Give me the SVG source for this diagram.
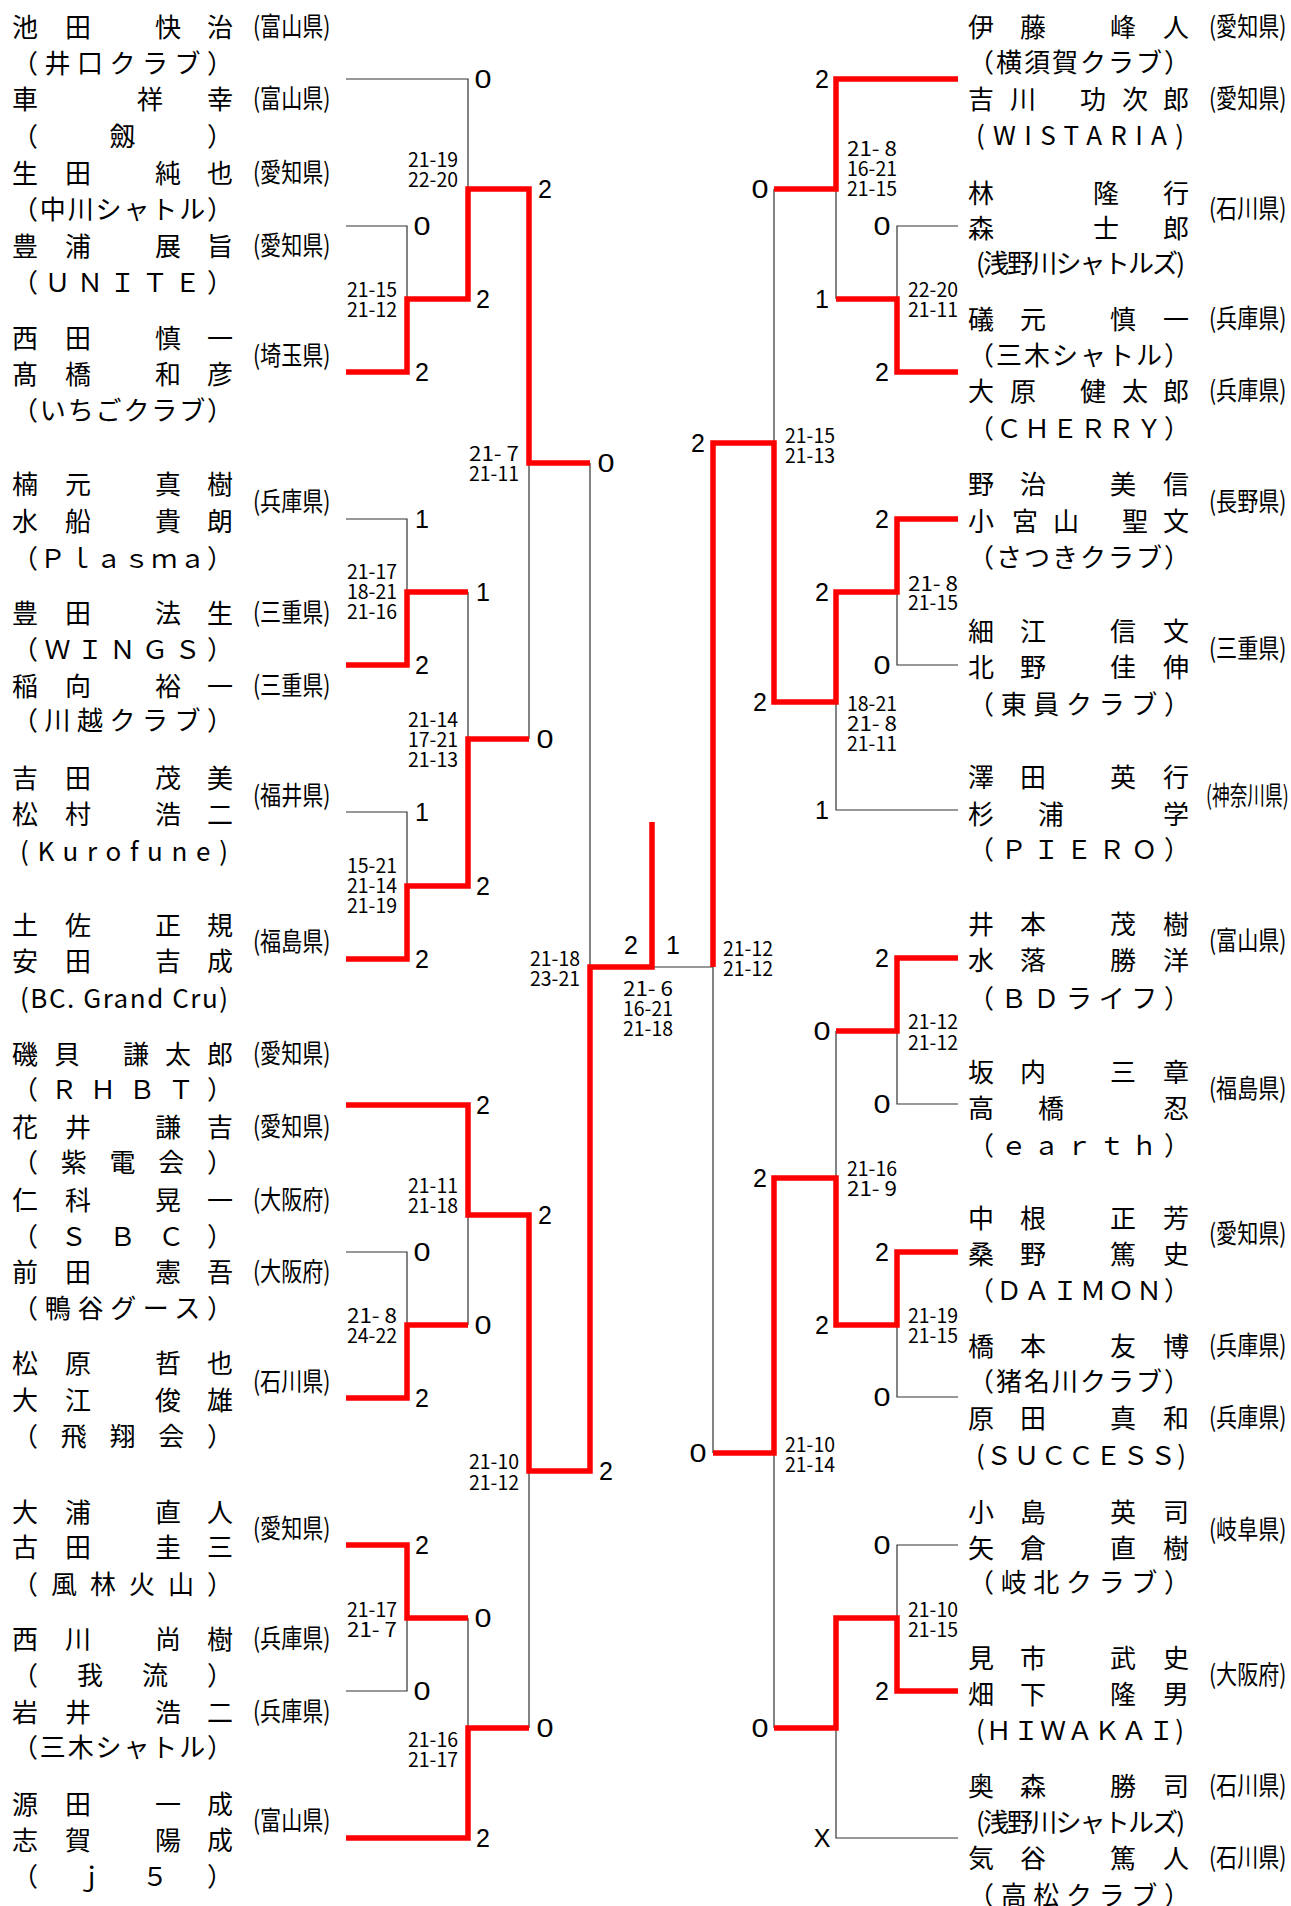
<svg xmlns="http://www.w3.org/2000/svg" width="1291" height="1906" viewBox="0 0 1291 1906">
<style>
text{font-family:"Noto Sans CJK JP","Noto Sans CJK SC",sans-serif;fill:#000}
.nm,.tm,.pf{font-size:26px;dominant-baseline:central}
.sc{font-size:20px;dominant-baseline:central}
.n{font-family:"Liberation Sans",Arial,sans-serif;font-size:25px;text-anchor:middle}
.thin{stroke:#333;stroke-width:1.2;fill:none}
.red{stroke:#ff0000;stroke-width:5.5;fill:none;stroke-linejoin:miter}
</style>
<rect width="1291" height="1906" fill="#fff"/>
<g id="connectors">
<path class="thin" d="M346 79H468V189M346 226H407V299M346 519H407V592M468 592V739M346 812H407V886M529 463V739M590 463V967M346 1252H407V1325M468 1215V1325M346 1691H407V1618M468 1618V1728M529 1471V1728M652 967H713M774 189V443M958 226H897V299M836 189V299M958 665H897V592M958 810H836V702M958 1104H897V1031M836 1031V1178M958 1397H897V1325M713 967V1453M774 1453V1728M958 1545H897V1618M958 1838H836V1728"/>
<path class="red" d="M346 372H407V299H468V189H529V463H590"/>
<path class="red" d="M346 665H407V592H468"/>
<path class="red" d="M346 959H407V886H468V739H529"/>
<path class="red" d="M346 1105H468V1215H529V1471H590V967H652V822"/>
<path class="red" d="M346 1398H407V1325H468"/>
<path class="red" d="M346 1545H407V1618H468"/>
<path class="red" d="M346 1838H468V1728H529"/>
<path class="red" d="M958 79H836V189H774"/>
<path class="red" d="M958 372H897V299H836"/>
<path class="red" d="M958 519H897V592H836V702H774V443H713V967"/>
<path class="red" d="M958 958H897V1031H836"/>
<path class="red" d="M958 1252H897V1325H836V1178H774V1453H713"/>
<path class="red" d="M958 1691H897V1618H836V1728H774"/>
</g>
<g id="L1">
<text class="nm" x="12 65 110 155 207" y="25">池田　快治</text><text class="pf" transform="matrix(0.81 0 0 1 253 25)">(富山県)</text>
<text class="tm" x="12" y="61" textLength="221">（井口クラブ）</text>
<text class="nm" x="12 74 137 207" y="97">車　祥幸</text><text class="pf" transform="matrix(0.81 0 0 1 253 97)">(富山県)</text>
<text class="tm" x="12" y="134" textLength="221">（　　劔　　）</text>
</g>
<g id="L2">
<text class="nm" x="12 65 110 155 207" y="171">生田　純也</text><text class="pf" transform="matrix(0.81 0 0 1 253 171)">(愛知県)</text>
<text class="tm" x="12" y="207" textLength="221">（中川シャトル）</text>
<text class="nm" x="12 65 110 155 207" y="244">豊浦　展旨</text><text class="pf" transform="matrix(0.81 0 0 1 253 244)">(愛知県)</text>
<text class="tm" x="12" y="280" textLength="221">（ＵＮＩＴＥ）</text>
</g>
<g id="L3">
<text class="nm" x="12 65 110 155 207" y="336">西田　慎一</text>
<text class="nm" x="12 65 110 155 207" y="372">髙橋　和彦</text><text class="pf" transform="matrix(0.81 0 0 1 253 354)">(埼玉県)</text>
<text class="tm" x="12" y="408" textLength="221">（いちごクラブ）</text>
</g>
<g id="L4">
<text class="nm" x="12 65 110 155 207" y="482">楠元　真樹</text>
<text class="nm" x="12 65 110 155 207" y="519">水船　貴朗</text><text class="pf" transform="matrix(0.81 0 0 1 253 500)">(兵庫県)</text>
<text class="tm" x="12" y="556" textLength="221">（Ｐｌａｓｍａ）</text>
</g>
<g id="L5">
<text class="nm" x="12 65 110 155 207" y="611">豊田　法生</text><text class="pf" transform="matrix(0.81 0 0 1 253 611)">(三重県)</text>
<text class="tm" x="12" y="647" textLength="221">（ＷＩＮＧＳ）</text>
<text class="nm" x="12 65 110 155 207" y="684">稲向　裕一</text><text class="pf" transform="matrix(0.81 0 0 1 253 684)">(三重県)</text>
<text class="tm" x="12" y="718" textLength="221">（川越クラブ）</text>
</g>
<g id="L6">
<text class="nm" x="12 65 110 155 207" y="776">吉田　茂美</text>
<text class="nm" x="12 65 110 155 207" y="812">松村　浩二</text><text class="pf" transform="matrix(0.81 0 0 1 253 794)">(福井県)</text>
<text class="tm" x="20" y="849" textLength="208">(Kurofune)</text>
</g>
<g id="L7">
<text class="nm" x="12 65 110 155 207" y="923">土佐　正規</text>
<text class="nm" x="12 65 110 155 207" y="959">安田　吉成</text><text class="pf" transform="matrix(0.81 0 0 1 253 940)">(福島県)</text>
<text class="tm" x="20" y="996" textLength="208">(BC. Grand Cru)</text>
</g>
<g id="L8">
<text class="nm" x="12 54 88 123 165 207" y="1052">磯貝　謙太郎</text><text class="pf" transform="matrix(0.81 0 0 1 253 1052)">(愛知県)</text>
<text class="tm" x="12" y="1087" textLength="221">（ＲＨＢＴ）</text>
<text class="nm" x="12 65 110 155 207" y="1125">花井　謙吉</text><text class="pf" transform="matrix(0.81 0 0 1 253 1125)">(愛知県)</text>
<text class="tm" x="12" y="1160" textLength="221">（紫電会）</text>
</g>
<g id="L9">
<text class="nm" x="12 65 110 155 207" y="1198">仁科　晃一</text><text class="pf" transform="matrix(0.81 0 0 1 253 1198)">(大阪府)</text>
<text class="tm" x="12" y="1234" textLength="221">（ＳＢＣ）</text>
<text class="nm" x="12 65 110 155 207" y="1270">前田　憲吾</text><text class="pf" transform="matrix(0.81 0 0 1 253 1270)">(大阪府)</text>
<text class="tm" x="12" y="1306" textLength="221">（鴨谷グース）</text>
</g>
<g id="L10">
<text class="nm" x="12 65 110 155 207" y="1361">松原　哲也</text>
<text class="nm" x="12 65 110 155 207" y="1398">大江　俊雄</text><text class="pf" transform="matrix(0.81 0 0 1 253 1380)">(石川県)</text>
<text class="tm" x="12" y="1434" textLength="221">（飛翔会）</text>
</g>
<g id="L11">
<text class="nm" x="12 65 110 155 207" y="1510">大浦　直人</text>
<text class="nm" x="12 65 110 155 207" y="1545">古田　圭三</text><text class="pf" transform="matrix(0.81 0 0 1 253 1527)">(愛知県)</text>
<text class="tm" x="12" y="1582" textLength="221">（風林火山）</text>
</g>
<g id="L12">
<text class="nm" x="12 65 110 155 207" y="1637">西川　尚樹</text><text class="pf" transform="matrix(0.81 0 0 1 253 1637)">(兵庫県)</text>
<text class="tm" x="12" y="1673" textLength="221">（　我　流　）</text>
<text class="nm" x="12 65 110 155 207" y="1710">岩井　浩二</text><text class="pf" transform="matrix(0.81 0 0 1 253 1710)">(兵庫県)</text>
<text class="tm" x="12" y="1745" textLength="221">（三木シャトル）</text>
</g>
<g id="L13">
<text class="nm" x="12 65 110 155 207" y="1802">源田　一成</text>
<text class="nm" x="12 65 110 155 207" y="1838">志賀　陽成</text><text class="pf" transform="matrix(0.81 0 0 1 253 1819)">(富山県)</text>
<text class="tm" x="12" y="1874" textLength="221">（　ｊ　５　）</text>
</g>
<g id="R1">
<text class="nm" x="968 1020 1065 1110 1163" y="25">伊藤　峰人</text><text class="pf" transform="matrix(0.81 0 0 1 1209 25)">(愛知県)</text>
<text class="tm" x="968" y="60" textLength="222">（横須賀クラブ）</text>
<text class="nm" x="968 1010 1045 1080 1122 1163" y="97">吉川　功次郎</text><text class="pf" transform="matrix(0.81 0 0 1 1209 97)">(愛知県)</text>
<text class="tm" x="976" y="133" textLength="208">(WISTARIA)</text>
</g>
<g id="R2">
<text class="nm" x="968 1030 1093 1163" y="191">林　隆行</text>
<text class="nm" x="968 1030 1093 1163" y="226">森　士郎</text><text class="pf" transform="matrix(0.81 0 0 1 1209 207)">(石川県)</text>
<text class="tm" x="976" y="261" textLength="209">(浅野川シャトルズ)</text>
</g>
<g id="R3">
<text class="nm" x="968 1020 1065 1110 1163" y="317">礒元　慎一</text><text class="pf" transform="matrix(0.81 0 0 1 1209 317)">(兵庫県)</text>
<text class="tm" x="968" y="353" textLength="222">（三木シャトル）</text>
<text class="nm" x="968 1010 1045 1080 1122 1163" y="389">大原　健太郎</text><text class="pf" transform="matrix(0.81 0 0 1 1209 389)">(兵庫県)</text>
<text class="tm" x="968" y="426" textLength="222">（ＣＨＥＲＲＹ）</text>
</g>
<g id="R4">
<text class="nm" x="968 1020 1065 1110 1163" y="482">野治　美信</text>
<text class="nm" x="968 1012 1053 1088 1122 1163" y="519">小宮山　聖文</text><text class="pf" transform="matrix(0.81 0 0 1 1209 500)">(長野県)</text>
<text class="tm" x="968" y="555" textLength="222">（さつきクラブ）</text>
</g>
<g id="R5">
<text class="nm" x="968 1020 1065 1110 1163" y="629">細江　信文</text>
<text class="nm" x="968 1020 1065 1110 1163" y="665">北野　佳伸</text><text class="pf" transform="matrix(0.81 0 0 1 1209 647)">(三重県)</text>
<text class="tm" x="968" y="702" textLength="222">（東員クラブ）</text>
</g>
<g id="R6">
<text class="nm" x="968 1020 1065 1110 1163" y="775">澤田　英行</text>
<text class="nm" x="968 1038 1100 1163" y="812">杉浦　学</text><text class="pf" transform="matrix(0.68 0 0 1 1206 793)">(神奈川県)</text>
<text class="tm" x="968" y="847" textLength="222">（ＰＩＥＲＯ）</text>
</g>
<g id="R7">
<text class="nm" x="968 1020 1065 1110 1163" y="922">井本　茂樹</text>
<text class="nm" x="968 1020 1065 1110 1163" y="958">水落　勝洋</text><text class="pf" transform="matrix(0.81 0 0 1 1209 939)">(富山県)</text>
<text class="tm" x="968" y="996" textLength="222">（ＢＤライフ）</text>
</g>
<g id="R8">
<text class="nm" x="968 1020 1065 1110 1163" y="1070">坂内　三章</text>
<text class="nm" x="968 1038 1100 1163" y="1106">高橋　忍</text><text class="pf" transform="matrix(0.81 0 0 1 1209 1087)">(福島県)</text>
<text class="tm" x="968" y="1143" textLength="222">（ｅａｒｔｈ）</text>
</g>
<g id="R9">
<text class="nm" x="968 1020 1065 1110 1163" y="1216">中根　正芳</text>
<text class="nm" x="968 1020 1065 1110 1163" y="1252">桑野　篤史</text><text class="pf" transform="matrix(0.81 0 0 1 1209 1232)">(愛知県)</text>
<text class="tm" x="968" y="1288" textLength="222">（ＤＡＩＭＯＮ）</text>
</g>
<g id="R10">
<text class="nm" x="968 1020 1065 1110 1163" y="1344">橋本　友博</text><text class="pf" transform="matrix(0.81 0 0 1 1209 1344)">(兵庫県)</text>
<text class="tm" x="968" y="1379" textLength="222">（猪名川クラブ）</text>
<text class="nm" x="968 1020 1065 1110 1163" y="1416">原田　真和</text><text class="pf" transform="matrix(0.81 0 0 1 1209 1416)">(兵庫県)</text>
<text class="tm" x="976" y="1453" textLength="210">(ＳＵＣＣＥＳＳ)</text>
</g>
<g id="R11">
<text class="nm" x="968 1020 1065 1110 1163" y="1510">小島　英司</text>
<text class="nm" x="968 1020 1065 1110 1163" y="1546">矢倉　直樹</text><text class="pf" transform="matrix(0.81 0 0 1 1209 1528)">(岐阜県)</text>
<text class="tm" x="968" y="1580" textLength="222">（岐北クラブ）</text>
</g>
<g id="R12">
<text class="nm" x="968 1020 1065 1110 1163" y="1656">見市　武史</text>
<text class="nm" x="968 1020 1065 1110 1163" y="1692">畑下　隆男</text><text class="pf" transform="matrix(0.81 0 0 1 1209 1673)">(大阪府)</text>
<text class="tm" x="976" y="1728" textLength="208">(ＨＩＷＡＫＡＩ)</text>
</g>
<g id="R13">
<text class="nm" x="968 1020 1065 1110 1163" y="1784">奥森　勝司</text><text class="pf" transform="matrix(0.81 0 0 1 1209 1784)">(石川県)</text>
<text class="tm" x="976" y="1820" textLength="209">(浅野川シャトルズ)</text>
<text class="nm" x="968 1020 1065 1110 1163" y="1856">気谷　篤人</text><text class="pf" transform="matrix(0.81 0 0 1 1209 1856)">(石川県)</text>
<text class="tm" x="968" y="1893" textLength="222">（高松クラブ）</text>
</g>
<g id="game-scores">
<text class="sc"><tspan x="347" y="288" textLength="50" lengthAdjust="spacingAndGlyphs">21-15</tspan><tspan x="347" y="308" textLength="50" lengthAdjust="spacingAndGlyphs">21-12</tspan></text>
<text class="sc"><tspan x="347" y="570" textLength="50" lengthAdjust="spacingAndGlyphs">21-17</tspan><tspan x="347" y="590" textLength="50" lengthAdjust="spacingAndGlyphs">18-21</tspan><tspan x="347" y="610" textLength="50" lengthAdjust="spacingAndGlyphs">21-16</tspan></text>
<text class="sc"><tspan x="347" y="864" textLength="50" lengthAdjust="spacingAndGlyphs">15-21</tspan><tspan x="347" y="884" textLength="50" lengthAdjust="spacingAndGlyphs">21-14</tspan><tspan x="347" y="904" textLength="50" lengthAdjust="spacingAndGlyphs">21-19</tspan></text>
<text class="sc"><tspan x="347" y="1314" textLength="50" lengthAdjust="spacingAndGlyphs">21- 8</tspan><tspan x="347" y="1334" textLength="50" lengthAdjust="spacingAndGlyphs">24-22</tspan></text>
<text class="sc"><tspan x="347" y="1608" textLength="50" lengthAdjust="spacingAndGlyphs">21-17</tspan><tspan x="347" y="1628" textLength="50" lengthAdjust="spacingAndGlyphs">21- 7</tspan></text>
<text class="sc"><tspan x="408" y="158" textLength="50" lengthAdjust="spacingAndGlyphs">21-19</tspan><tspan x="408" y="178" textLength="50" lengthAdjust="spacingAndGlyphs">22-20</tspan></text>
<text class="sc"><tspan x="408" y="718" textLength="50" lengthAdjust="spacingAndGlyphs">21-14</tspan><tspan x="408" y="738" textLength="50" lengthAdjust="spacingAndGlyphs">17-21</tspan><tspan x="408" y="758" textLength="50" lengthAdjust="spacingAndGlyphs">21-13</tspan></text>
<text class="sc"><tspan x="408" y="1184" textLength="50" lengthAdjust="spacingAndGlyphs">21-11</tspan><tspan x="408" y="1204" textLength="50" lengthAdjust="spacingAndGlyphs">21-18</tspan></text>
<text class="sc"><tspan x="408" y="1738" textLength="50" lengthAdjust="spacingAndGlyphs">21-16</tspan><tspan x="408" y="1758" textLength="50" lengthAdjust="spacingAndGlyphs">21-17</tspan></text>
<text class="sc"><tspan x="469" y="452" textLength="50" lengthAdjust="spacingAndGlyphs">21- 7</tspan><tspan x="469" y="472" textLength="50" lengthAdjust="spacingAndGlyphs">21-11</tspan></text>
<text class="sc"><tspan x="469" y="1460" textLength="50" lengthAdjust="spacingAndGlyphs">21-10</tspan><tspan x="469" y="1481" textLength="50" lengthAdjust="spacingAndGlyphs">21-12</tspan></text>
<text class="sc"><tspan x="530" y="957" textLength="50" lengthAdjust="spacingAndGlyphs">21-18</tspan><tspan x="530" y="977" textLength="50" lengthAdjust="spacingAndGlyphs">23-21</tspan></text>
<text class="sc"><tspan x="623" y="987" textLength="50" lengthAdjust="spacingAndGlyphs">21- 6</tspan><tspan x="623" y="1007" textLength="50" lengthAdjust="spacingAndGlyphs">16-21</tspan><tspan x="623" y="1027" textLength="50" lengthAdjust="spacingAndGlyphs">21-18</tspan></text>
<text class="sc"><tspan x="723" y="947" textLength="50" lengthAdjust="spacingAndGlyphs">21-12</tspan><tspan x="723" y="967" textLength="50" lengthAdjust="spacingAndGlyphs">21-12</tspan></text>
<text class="sc"><tspan x="785" y="434" textLength="50" lengthAdjust="spacingAndGlyphs">21-15</tspan><tspan x="785" y="454" textLength="50" lengthAdjust="spacingAndGlyphs">21-13</tspan></text>
<text class="sc"><tspan x="785" y="1443" textLength="50" lengthAdjust="spacingAndGlyphs">21-10</tspan><tspan x="785" y="1463" textLength="50" lengthAdjust="spacingAndGlyphs">21-14</tspan></text>
<text class="sc"><tspan x="847" y="147" textLength="50" lengthAdjust="spacingAndGlyphs">21- 8</tspan><tspan x="847" y="167" textLength="50" lengthAdjust="spacingAndGlyphs">16-21</tspan><tspan x="847" y="187" textLength="50" lengthAdjust="spacingAndGlyphs">21-15</tspan></text>
<text class="sc"><tspan x="847" y="702" textLength="50" lengthAdjust="spacingAndGlyphs">18-21</tspan><tspan x="847" y="722" textLength="50" lengthAdjust="spacingAndGlyphs">21- 8</tspan><tspan x="847" y="742" textLength="50" lengthAdjust="spacingAndGlyphs">21-11</tspan></text>
<text class="sc"><tspan x="847" y="1167" textLength="50" lengthAdjust="spacingAndGlyphs">21-16</tspan><tspan x="847" y="1187" textLength="50" lengthAdjust="spacingAndGlyphs">21- 9</tspan></text>
<text class="sc"><tspan x="908" y="288" textLength="50" lengthAdjust="spacingAndGlyphs">22-20</tspan><tspan x="908" y="308" textLength="50" lengthAdjust="spacingAndGlyphs">21-11</tspan></text>
<text class="sc"><tspan x="908" y="582" textLength="50" lengthAdjust="spacingAndGlyphs">21- 8</tspan><tspan x="908" y="601" textLength="50" lengthAdjust="spacingAndGlyphs">21-15</tspan></text>
<text class="sc"><tspan x="908" y="1020" textLength="50" lengthAdjust="spacingAndGlyphs">21-12</tspan><tspan x="908" y="1041" textLength="50" lengthAdjust="spacingAndGlyphs">21-12</tspan></text>
<text class="sc"><tspan x="908" y="1314" textLength="50" lengthAdjust="spacingAndGlyphs">21-19</tspan><tspan x="908" y="1334" textLength="50" lengthAdjust="spacingAndGlyphs">21-15</tspan></text>
<text class="sc"><tspan x="908" y="1608" textLength="50" lengthAdjust="spacingAndGlyphs">21-10</tspan><tspan x="908" y="1628" textLength="50" lengthAdjust="spacingAndGlyphs">21-15</tspan></text>
</g>
<g id="match-scores">
<text class="n" x="422" y="235" textLength="17" lengthAdjust="spacingAndGlyphs">0</text>
<text class="n" x="422" y="381">2</text>
<text class="n" x="422" y="528">1</text>
<text class="n" x="422" y="674">2</text>
<text class="n" x="422" y="821">1</text>
<text class="n" x="422" y="968">2</text>
<text class="n" x="422" y="1261" textLength="17" lengthAdjust="spacingAndGlyphs">0</text>
<text class="n" x="422" y="1407">2</text>
<text class="n" x="422" y="1554">2</text>
<text class="n" x="422" y="1700" textLength="17" lengthAdjust="spacingAndGlyphs">0</text>
<text class="n" x="483" y="88" textLength="17" lengthAdjust="spacingAndGlyphs">0</text>
<text class="n" x="483" y="308">2</text>
<text class="n" x="483" y="601">1</text>
<text class="n" x="483" y="895">2</text>
<text class="n" x="483" y="1114">2</text>
<text class="n" x="483" y="1334" textLength="17" lengthAdjust="spacingAndGlyphs">0</text>
<text class="n" x="483" y="1627" textLength="17" lengthAdjust="spacingAndGlyphs">0</text>
<text class="n" x="483" y="1847">2</text>
<text class="n" x="545" y="198">2</text>
<text class="n" x="545" y="748" textLength="17" lengthAdjust="spacingAndGlyphs">0</text>
<text class="n" x="545" y="1224">2</text>
<text class="n" x="545" y="1737" textLength="17" lengthAdjust="spacingAndGlyphs">0</text>
<text class="n" x="606" y="472" textLength="17" lengthAdjust="spacingAndGlyphs">0</text>
<text class="n" x="606" y="1480">2</text>
<text class="n" x="631" y="954">2</text>
<text class="n" x="673" y="954">1</text>
<text class="n" x="698" y="452">2</text>
<text class="n" x="698" y="1462" textLength="17" lengthAdjust="spacingAndGlyphs">0</text>
<text class="n" x="760" y="198" textLength="17" lengthAdjust="spacingAndGlyphs">0</text>
<text class="n" x="760" y="711">2</text>
<text class="n" x="760" y="1187">2</text>
<text class="n" x="760" y="1737" textLength="17" lengthAdjust="spacingAndGlyphs">0</text>
<text class="n" x="822" y="88">2</text>
<text class="n" x="822" y="308">1</text>
<text class="n" x="822" y="601">2</text>
<text class="n" x="822" y="819">1</text>
<text class="n" x="822" y="1040" textLength="17" lengthAdjust="spacingAndGlyphs">0</text>
<text class="n" x="822" y="1334">2</text>
<text class="n" x="822" y="1847">X</text>
<text class="n" x="882" y="235" textLength="17" lengthAdjust="spacingAndGlyphs">0</text>
<text class="n" x="882" y="381">2</text>
<text class="n" x="882" y="528">2</text>
<text class="n" x="882" y="674" textLength="17" lengthAdjust="spacingAndGlyphs">0</text>
<text class="n" x="882" y="967">2</text>
<text class="n" x="882" y="1113" textLength="17" lengthAdjust="spacingAndGlyphs">0</text>
<text class="n" x="882" y="1261">2</text>
<text class="n" x="882" y="1406" textLength="17" lengthAdjust="spacingAndGlyphs">0</text>
<text class="n" x="882" y="1554" textLength="17" lengthAdjust="spacingAndGlyphs">0</text>
<text class="n" x="882" y="1700">2</text>
</g>
</svg>
